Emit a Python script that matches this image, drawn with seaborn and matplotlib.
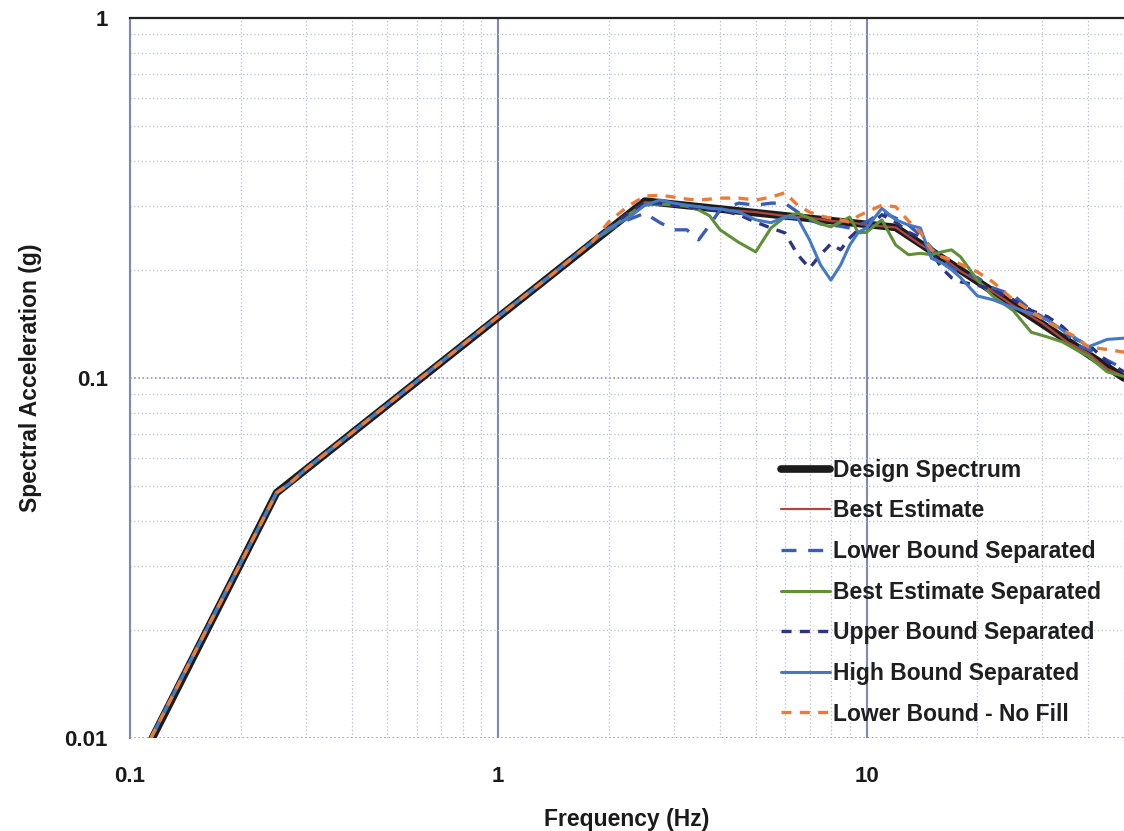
import matplotlib
matplotlib.use("Agg")
import matplotlib.pyplot as plt
import seaborn as sns
from matplotlib.ticker import LogLocator, NullFormatter

# === DATA ===
# design spectrum corner points
design_freq = [0.115, 0.25, 2.5, 12.0, 50.0]
design_sa = [0.010, 0.048, 0.310, 0.262, 0.100]

# rising branch shared by all the records (they sit on top of each other there)
low_freq = [0.114, 0.15, 0.20, 0.25, 0.27, 0.30, 0.40, 0.50, 0.70, 1.0, 1.4, 1.8]
low_sa = [0.010, 0.0173, 0.0307, 0.0480, 0.0507, 0.0558, 0.0704, 0.0844, 0.1108, 0.1482, 0.194, 0.239]

# high frequency part of the records
freq = [2.0, 2.25, 2.5, 2.75, 3.0, 3.25, 3.5, 3.75, 4.0, 4.5, 5.0, 5.5, 6.0, 6.5,
        7.0, 7.5, 8.0, 8.5, 9.0, 9.5, 10, 11, 12, 13, 14, 15, 16, 17, 18, 20, 22,
        25, 28, 31, 34, 37, 40, 45, 50]

best_freq = [2.0, 2.5, 3.0, 3.5, 4.0, 5.0, 6.0, 7.0, 8.0, 9.0, 10, 12, 14, 16,
             18, 20, 25, 30, 35, 40, 45, 50]
best_est = [0.259, 0.308, 0.303, 0.300, 0.294, 0.289, 0.282, 0.279, 0.273, 0.271,
            0.266, 0.262, 0.235, 0.217, 0.198, 0.186, 0.159, 0.142, 0.126, 0.117,
            0.106, 0.101]

lower_sep = [0.258, 0.275, 0.287, 0.270, 0.258, 0.258, 0.242, 0.266, 0.293, 0.306,
             0.302, 0.306, 0.306, 0.289, 0.275, 0.268, 0.266, 0.264, 0.261, 0.266,
             0.271, 0.289, 0.278, 0.266, 0.249, 0.230, 0.213, 0.202, 0.197, 0.190,
             0.178, 0.170, 0.154, 0.145, 0.137, 0.124, 0.120, 0.112, 0.106]

best_sep = [0.258, 0.284, 0.302, 0.304, 0.302, 0.300, 0.293, 0.282, 0.258, 0.238,
            0.224, 0.261, 0.280, 0.287, 0.278, 0.268, 0.263, 0.271, 0.280, 0.253,
            0.254, 0.275, 0.234, 0.220, 0.222, 0.220, 0.224, 0.227, 0.217, 0.187,
            0.169, 0.154, 0.134, 0.130, 0.126, 0.120, 0.115, 0.104, 0.101]

upper_sep = [0.261, 0.287, 0.306, 0.306, 0.302, 0.299, 0.296, 0.293, 0.293, 0.284,
             0.271, 0.261, 0.253, 0.220, 0.202, 0.220, 0.236, 0.227, 0.245, 0.258,
             0.261, 0.284, 0.271, 0.254, 0.245, 0.224, 0.202, 0.190, 0.185, 0.181,
             0.176, 0.165, 0.154, 0.148, 0.139, 0.128, 0.124, 0.111, 0.104]

high_sep = [0.261, 0.278, 0.302, 0.312, 0.306, 0.302, 0.299, 0.296, 0.295, 0.289,
            0.275, 0.270, 0.280, 0.278, 0.242, 0.206, 0.187, 0.206, 0.234, 0.254,
            0.261, 0.296, 0.275, 0.266, 0.261, 0.215, 0.209, 0.200, 0.190, 0.169,
            0.165, 0.157, 0.151, 0.145, 0.136, 0.129, 0.122, 0.128, 0.129]

lower_nofill = [0.272, 0.300, 0.320, 0.322, 0.318, 0.314, 0.312, 0.314, 0.316, 0.316,
                0.312, 0.318, 0.327, 0.302, 0.289, 0.282, 0.278, 0.275, 0.271, 0.282,
                0.289, 0.302, 0.299, 0.273, 0.254, 0.227, 0.217, 0.213, 0.207, 0.197,
                0.185, 0.165, 0.153, 0.143, 0.136, 0.130, 0.122, 0.120, 0.118]

x_ticks = [0.1, 1, 10]
x_tick_labels = ["0.1", "1", "10"]
y_ticks = [0.01, 0.1, 1]
y_tick_labels = ["0.01", "0.1", "1"]

# === STYLE ===
sns.set_style("white")
plt.rcParams['font.family'] = ['Liberation Sans', 'DejaVu Sans']

fig = plt.figure(figsize=(11.24, 8.31), dpi=100)
ax = fig.add_axes([130 / 1124, 1 - 738 / 831, 1 - 130 / 1124, 720 / 831])

# design spectrum (thick black)
sns.lineplot(x=design_freq, y=design_sa, color="#1c1c1c", linewidth=5.5,
             estimator=None, sort=False, label="Design Spectrum", ax=ax)
sns.lineplot(x=low_freq + best_freq, y=low_sa + best_est, color="#b0463f", linewidth=1.6,
             estimator=None, sort=False, label="Best Estimate", ax=ax)

# records: (label, values, colour, linestyle, width)
series = [
    ("Lower Bound Separated", lower_sep, "#3a5db5", (0, (4.5, 3.5)), 2.4),
    ("Best Estimate Separated", best_sep, "#5f8f37", "-", 2.2),
    ("Upper Bound Separated", upper_sep, "#2d3483", (0, (3, 2.5)), 2.4),
    ("High Bound Separated", high_sep, "#4479c6", "-", 2.2),
    ("Lower Bound - No Fill", lower_nofill, "#ec7c35", (0, (3, 2.5)), 2.4),
]
for lab, vals, col, ls, lw in series:
    sns.lineplot(x=low_freq + freq, y=low_sa + vals, color=col, linestyle=ls,
                 linewidth=lw, estimator=None, sort=False, label=lab, ax=ax)

# --- axes ---
ax.set_xscale("log")
ax.set_yscale("log")
ax.set_xlim(0.1, 50)
ax.set_ylim(0.01, 1)
ax.set_xticks(x_ticks)
ax.set_xticklabels(x_tick_labels)
ax.set_yticks(y_ticks)
ax.set_yticklabels(y_tick_labels)
ax.xaxis.set_minor_locator(LogLocator(base=10, subs=range(2, 10)))
ax.yaxis.set_minor_locator(LogLocator(base=10, subs=range(2, 10)))
ax.xaxis.set_minor_formatter(NullFormatter())
ax.yaxis.set_minor_formatter(NullFormatter())
ax.tick_params(which="both", length=0)
ax.tick_params(axis="x", pad=20, labelsize=16)
ax.tick_params(axis="y", pad=16, labelsize=16)
for t in ax.get_xticklabels() + ax.get_yticklabels():
    t.set_fontweight("bold")
    t.set_color("#1a1a1a")

ax.grid(which="minor", color="#b4bcdc", linestyle=(0, (1, 2)), linewidth=0.9)
ax.xaxis.grid(which="major", color="#7f88b8", linestyle="-", linewidth=1.5)
ax.yaxis.grid(which="major", color="#8a92c2", linestyle=(0, (1, 1.5)), linewidth=1.2)
ax.set_axisbelow(True)

ax.spines["top"].set_color("#222222")
ax.spines["top"].set_linewidth(1.6)
ax.spines["left"].set_color("#7f88b8")
ax.spines["left"].set_linewidth(1.5)
ax.spines["right"].set_visible(False)
ax.spines["bottom"].set_visible(False)

ax.set_xlabel("Frequency (Hz)", fontsize=16.5, fontweight="bold", color="#1a1a1a", labelpad=15)
ax.set_ylabel("Spectral Acceleration (g)", fontsize=16.5, fontweight="bold", color="#1a1a1a", labelpad=16)

leg = ax.legend(loc="upper left", bbox_to_anchor=(0.655, 0.388), frameon=False,
                prop={"size": 16.5, "weight": "bold"}, handlelength=2.15,
                handletextpad=0.1, labelspacing=0.77, borderpad=0, borderaxespad=0)
for t in leg.get_texts():
    t.set_color("#1f1f1f")

plt.savefig("out.png", dpi=100)
